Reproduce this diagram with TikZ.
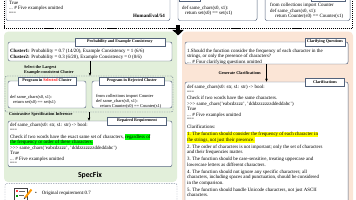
\documentclass[tikz,border=0pt]{standalone}
\usepackage{fontspec}
\setmainfont{Liberation Serif}
\newfontfamily\headfont{Carlito}
\usetikzlibrary{arrows.meta,fit}
\definecolor{cardline}{RGB}{84,99,124}
\definecolor{specgreen}{RGB}{226,239,218}
\definecolor{clarorange}{RGB}{251,229,214}
\definecolor{hlgreen}{RGB}{0,255,0}
\definecolor{hlyellow}{RGB}{255,255,0}
\newcommand{\bodysize}{\fontsize{7}{7.9}\selectfont}
\newcommand{\innersize}{\fontsize{6.3}{7.2}\selectfont}
\newcommand{\labelsize}{\fontsize{6}{6.6}\selectfont}
\newcommand{\tabsize}{\fontsize{5.8}{6.5}\selectfont}
\newcommand{\hlg}[1]{{\setlength{\fboxsep}{0pt}\colorbox{hlgreen}{\strut #1}}}
\newcommand{\hly}[1]{{\setlength{\fboxsep}{0pt}\colorbox{hlyellow}{\strut #1}}}

\begin{document}
\begin{tikzpicture}[x=0.5mm, y=-0.5mm,
  panel/.style={rounded corners=2mm, inner sep=0pt},
  card/.style={draw=cardline, line width=0.7pt, fill=white, rounded corners=1mm, inner sep=0pt},
  tab/.style={draw=cardline, line width=0.6pt, fill=white, inner sep=0.8mm, minimum height=4mm, font=\tabsize\bfseries},
  code/.style={anchor=north west, align=left, inner sep=0pt, font=\bodysize},
  small code/.style={code, font=\innersize},
  steplabel/.style={align=left, inner sep=0pt, font=\labelsize\bfseries},
  flow/.style={-{Stealth[length=1.6mm,width=1.3mm]}, line width=0.6pt},
  groupbox/.style={draw=cardline, line width=0.6pt, dash pattern=on 2pt off 1.5pt, rounded corners=1mm, inner sep=0pt}]
\useasboundingbox (0,0) rectangle (356,200);
\clip (0,0) rectangle (356,200);

\node[card, fit={(6,-20) (170,20.5)}] (task) {};
\node[code] (taskcode) at (9,1) {True\\ ... \# Five examples omitted\\ """};
\node[anchor=east, inner sep=0pt, font=\bodysize\bfseries] (taskid) at (165,15.7) {HumanEval/54};

\node[card, fit={(178,-20) (257,20.5)}] (progA) {};
\node[tab, fit={(179,-8) (200,1.5)}, inner sep=0pt] (progAtab) {};
\node[code] (progAcode) at (182,5.5) {def same\_chars(s0, s1):\\ \hspace*{1.5mm}return set(s0) == set(s1)};

\node[card, fit={(265,-20) (350,20.5)}] (progB) {};
\node[tab, fit={(311,-8) (345,1.5)}, inner sep=0pt] (progBtab) {};
\node[code] (progBcode) at (270,3.2) {from collections import Counter\\ def same\_chars(s0, s1):\\ \hspace*{2.5mm}return Counter(s0) == Counter(s1)};

\draw[line width=0.8pt, dash pattern=on 1.6pt off 1.2pt] (4,-5) |- (352,28.3) -- (352,-5);
\coordinate (gapTop) at (178,25.5);
\coordinate (gapBot) at (178,35.5);
\draw[-{Triangle[width=5.5mm,length=2.8mm]}, line width=2.2mm] (gapTop) -- (gapBot);

\node[panel, fill=specgreen, fit={(4,31.7) (177,182)}] (specfix) {};
\node[card, fit={(8,42) (172,61)}] (cluster) {};
\node[tab, minimum width=45mm] (clustertab) at (120,42) {Probability and Example Consistency};
\node[code] (clustertxt) at (10,49.2) {\textbf{Cluster1:} Probability = 0.7 (14/20), Example Consistency = 1 (6/6)\\
  \textbf{Cluster2:} Probability = 0.3 (6/20), Example Consistency = 0 (0/6)};

\node[steplabel, anchor=north west] (selectlbl) at (24,65.5) {Select the Largest\\ Example-consistent Cluster};

\node[groupbox, fit={(5,76) (173,112)}] (programs) {};
\node[card, fit={(8,81) (86,108)}] (selected) {};
\node[tab, minimum width=29mm] (selectedtab) at (47,81) {Program in \textcolor{red}{Selected} Cluster};
\node[small code] (selectedcode) at (10,95) {def same\_chars(s0, s1):\\ \hspace*{1.5mm}return set(s0) == set(s1)};
\node[card, fit={(92,81) (172,108)}] (rejected) {};
\node[tab, minimum width=32.5mm] (rejectedtab) at (132,81) {Program in Rejected Cluster};
\node[small code] (rejectedcode) at (96,93.8) {from collections import Counter\\ def same\_chars(s0, s1):\\ \hspace*{2mm}return Counter(s0) == Counter(s1)};

\node[steplabel, anchor=north west] (contrastlbl) at (9,112.3) {Contrastive Specification Inference};

\node[card, fit={(8,121) (172,166.7)}] (repaired) {};
\node[tab, minimum width=29.5mm] (repairedtab) at (137,121) {Repaired Requirement};
\node[code] (repairedcode) at (10,123.3) {def same\_chars(s0: str, s1: str) -> bool:\\
  """\\
  Check if two words have the exact same set of characters, \hlg{regardless of}\\
  \hlg{the frequency or order of these characters.}\\
  >{}>{}> same\_chars('eabcdzzzz', 'dddzzzzzzzddeddabc')\\
  True\\
  ... \# Five examples omitted\\
  """};

\draw[flow] (cluster.south) -- (cluster.south |- programs.north);
\draw[flow] (programs.south) -- (programs.south |- repaired.north);

\node[font=\headfont\bfseries\fontsize{11}{12}\selectfont, inner sep=0pt] (specname) at (90,175.5) {SpecFix};

\node[groupbox, draw=cardline!70, fit={(5,183.3) (177,215)}] (origbox) {};
\draw[draw=black!75, line width=0.6pt, fill=white] (14,188) rectangle (27,203);
\fill[red!75] (15.5,190) rectangle (17.7,192.2);
\fill[green!60!black] (15.5,194.5) rectangle (17.7,196.7);
\draw[black!60, line width=0.5pt] (19,191) -- (25,191) (19,195.5) -- (24,195.5) (19,200) -- (23,200);
\draw[line width=1mm, draw=orange!80!yellow] (25.2,197.5) -- (31.5,189.5);
\draw[line width=0.5mm, draw=black!80] (24.3,198.8) -- (25.2,197.5);
\node[anchor=west, inner sep=0pt, font=\bodysize] (origreq) at (35,193) {\textbullet\hspace{2.5mm}Original requirement:0.7};

\node[panel, fill=clarorange, fit={(182,31.7) (353,225)}] (clarify) {};
\node[card, fit={(185,42) (348,64)}] (questions) {};
\node[tab, minimum width=20mm] (questionstab) at (325,42) {Clarifying Questions};
\node[code] (questionstxt) at (187,48.7) {1.Should the function consider the frequency of each character in the\\
  strings, or only the presence of characters?\\
  ... \# Four clarifying questions omitted};

\node[steplabel, anchor=east] (generatelbl) at (261,73) {Generate Clarifications};

\node[card, fit={(185,82) (348,225)}] (clarifs) {};
\node[tab, minimum width=19.5mm] (clarifstab) at (325,82) {Clarifications};
\node[code, font=\fontsize{7}{7.75}\selectfont] (clarifstxt) at (187,85.2) {def same\_chars(s0: str, s1: str) -> bool:\\
  """\\
  Check if two words have the same characters.\\
  >{}>{}> same\_chars('eabcdzzzz', 'dddzzzzzzzddeddabc')\\
  True\\
  ... \# Five examples omitted\\
  """\\[2.3pt]
  Clarifications:\\[2.3pt]
  \hly{1. The function should consider the frequency of each character in}\\
  \hly{the strings, not just their presence.}\\[2.3pt]
  2. The order of characters is not important; only the set of characters\\
  and their frequencies matter.\\[2.3pt]
  3. The function should be case-sensitive, treating uppercase and\\
  lowercase letters as different characters.\\[2.3pt]
  4. The function should not ignore any specific characters; all\\
  characters, including spaces and punctuation, should be considered\\
  in the comparison.\\[2.3pt]
  5. The function should handle Unicode characters, not just ASCII\\
  characters.};

\draw[flow] (questions.south) -- (questions.south |- clarifs.north);
\end{tikzpicture}
\end{document}
